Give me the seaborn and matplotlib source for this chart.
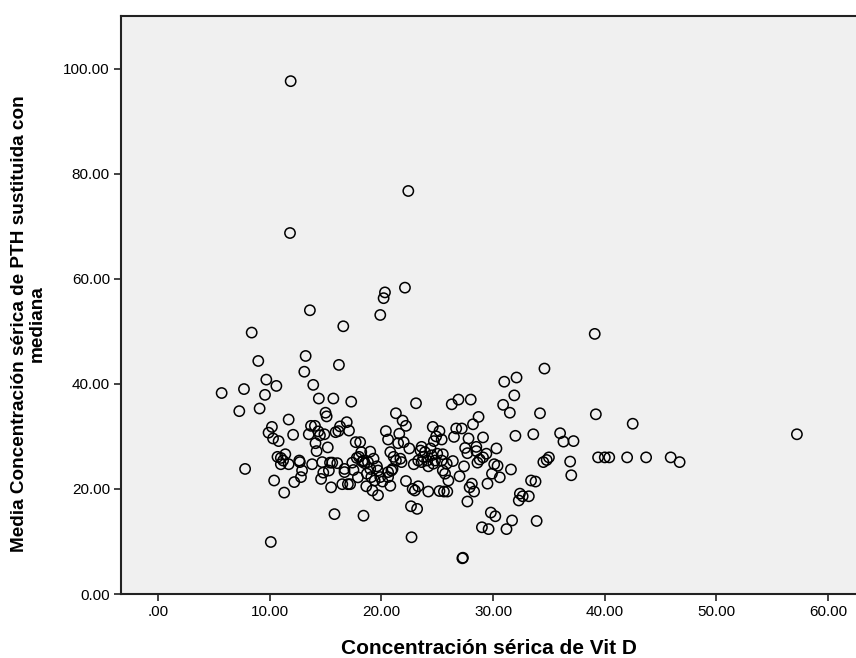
import matplotlib
matplotlib.use("Agg")
import matplotlib.pyplot as plt
import seaborn as sns
import pandas as pd
from matplotlib.ticker import FixedLocator, FuncFormatter

vit_d = [
    5.7, 7.28, 7.7, 7.8, 8.39, 8.98, 9.1, 9.58, 9.7, 9.9, 10.2, 10.3, 10.1, 10.4, 10.6, 10.7, 10.8,
    11.0, 11.0, 11.2, 11.3, 11.4, 11.7, 11.7, 11.82, 11.88,
    12.1, 12.2, 12.65, 12.7, 12.8, 12.9, 13.1, 13.22, 13.5, 13.6, 13.7, 13.8, 13.9, 14.05, 14.1,
    14.2, 14.35, 14.4, 14.5, 14.6, 14.7, 14.8, 14.9, 15.0, 15.1, 15.2, 15.3, 15.4, 15.5, 15.6,
    15.7, 15.8, 15.9, 16.05, 16.15, 16.2, 16.3,
    16.5, 16.59, 16.7, 16.7, 16.9, 17.0, 17.2, 17.1, 17.3, 17.4, 17.5, 17.7, 17.8, 17.9, 18.0,
    18.1, 18.2, 18.3, 18.4, 18.4, 18.5, 18.65, 18.7, 18.8, 19.0, 19.0, 19.1, 19.2, 19.3, 19.4,
    19.6, 19.7, 19.7, 19.9, 19.9, 20.1, 20.2, 20.32, 20.4, 20.6, 20.6, 20.6, 20.8, 20.8, 20.9,
    21.0, 21.1, 21.3, 21.3, 21.5, 21.6, 21.7, 21.8, 21.9, 22.0, 22.11, 22.2, 22.2, 22.41, 22.5,
    22.65, 22.7, 22.8, 22.9, 23.0, 23.1, 23.2, 23.3, 23.3, 23.5, 23.6, 23.6, 23.75, 23.9, 24.1,
    24.2, 24.2, 24.4, 24.5, 24.6, 24.65, 24.7, 24.8, 24.9, 25.0, 25.2, 25.2, 25.4, 25.4, 25.5,
    25.5, 25.6, 25.7, 25.85, 25.9, 26.0, 26.3, 26.4, 26.5, 26.7, 26.9, 27.0, 27.2, 27.25, 27.3,
    27.4, 27.5, 27.7, 27.7, 27.8, 27.9, 28.0, 28.1, 28.2, 28.3, 28.5, 28.5, 28.6, 28.7, 28.8,
    29.0, 29.1, 29.4, 29.1, 29.5, 29.6, 29.8, 29.9, 30.1, 30.2, 30.3, 30.4, 30.6, 30.9, 31.0,
    31.2, 31.5, 31.6, 31.7, 31.9, 32.0, 32.1, 32.3, 32.4, 32.65, 33.2, 33.4, 33.6, 33.8, 33.9,
    34.2, 34.5, 34.6, 34.8, 35.0, 36.0, 36.3, 36.9, 37.0, 37.2, 39.1, 39.2, 39.4, 40.0, 40.4,
    42.5, 42.0, 43.7, 45.9, 46.7, 57.2,
]
pth = [
    38.25, 34.8, 39.0, 23.8, 49.75, 44.35, 35.3, 37.9, 40.8, 30.7, 31.8, 29.6, 9.9, 21.6, 39.6, 26.1, 29.1,
    24.7, 25.9, 25.4, 19.3, 26.6, 24.7, 33.2, 68.7, 97.6,
    30.3, 21.3, 25.4, 25.1, 22.25, 23.5, 42.3, 45.3, 30.4, 54.0, 32.0, 24.7, 39.8, 32.0, 28.7,
    27.2, 30.95, 37.2, 30.2, 21.9, 25.1, 23.1, 30.4, 34.5, 33.8, 27.9, 23.5, 25.0, 20.3, 25.0,
    37.2, 15.2, 30.8, 24.9, 31.0, 43.6, 31.9,
    20.9, 50.95, 23.8, 23.2, 32.7, 20.9, 20.9, 31.1, 36.6, 25.0, 23.6, 28.9, 25.9, 22.2, 26.1,
    28.9, 27.0, 25.2, 14.9, 25.4, 24.9, 20.5, 22.9, 25.1, 27.1, 23.8, 22.25, 19.7, 25.75, 21.6,
    24.3, 23.5, 18.8, 22.25, 53.1, 21.4, 56.3, 57.4, 31.0, 29.4, 22.25, 23.2, 20.6, 27.0, 23.5,
    23.8, 26.1, 25.4, 34.4, 28.7, 30.5, 25.75, 25.1, 33.0, 28.9, 58.3, 32.0, 21.5, 76.7, 27.7,
    16.7, 10.8, 20.0, 24.7, 19.7, 36.3, 16.2, 20.5, 25.4, 27.3, 28.0, 25.1, 26.1, 27.0, 25.4,
    24.3, 19.5, 27.7, 26.4, 31.8, 24.8, 29.1, 25.4, 30.0, 26.7, 31.0, 19.6, 29.4, 25.4, 26.6,
    23.5, 19.5, 22.9, 24.8, 19.5, 21.6, 36.1, 25.3, 29.9, 31.5, 37.0, 22.4, 31.5, 6.8, 6.9,
    24.3, 27.8, 26.8, 17.6, 29.6, 20.3, 37.0, 21.0, 32.3, 19.5, 28.0, 27.2, 25.0, 33.7, 25.6,
    12.7, 29.8, 26.7, 26.0, 21.0, 12.35, 15.5, 22.9, 24.7, 14.8, 27.7, 24.4, 22.2, 36.0, 40.4,
    12.35, 34.5, 23.7, 14.0, 37.8, 30.1, 41.2, 17.8, 19.1, 18.6, 18.6, 21.6, 30.4, 21.4, 13.9,
    34.4, 25.1, 42.9, 25.5, 26.0, 30.6, 29.0, 25.2, 22.6, 29.1, 49.5, 34.2, 26.0, 26.0, 26.0,
    32.4, 26.0, 26.0, 26.0, 25.1, 30.4,
]

x_ticks = [0, 10, 20, 30, 40, 50, 60]
y_ticks = [0, 20, 40, 60, 80, 100]
x_label = "Concentración sérica de Vit D"
y_label = "Media Concentración sérica de PTH sustituida con\nmediana"

df = pd.DataFrame({"vit_d": vit_d, "pth": pth})

sns.set_style("white")
plt.rcParams["font.family"] = ["Liberation Sans Narrow", "Liberation Sans", "DejaVu Sans"]
plt.rcParams["text.color"] = "black"
plt.rcParams["axes.labelcolor"] = "black"

fig = plt.figure(figsize=(8.56, 6.58), dpi=100)
ax = fig.add_axes([121 / 856, 1 - 594 / 658, 1 - 121 / 856, (594 - 16) / 658])
ax.set_facecolor("#f0f0f0")

sns.scatterplot(data=df, x="vit_d", y="pth", ax=ax, marker="o", s=55,
                facecolor="none", edgecolor="black", linewidth=1.1, legend=False)

ax.set_xlim(-3.31, 62.49)
ax.set_ylim(0, 110.0)
ax.xaxis.set_major_locator(FixedLocator(x_ticks))
ax.yaxis.set_major_locator(FixedLocator(y_ticks))


def fmt(v, pos):
    s = f"{v:.2f}"
    if s.startswith("0."):
        s = s[1:]
    return s


ax.xaxis.set_major_formatter(FuncFormatter(fmt))
ax.yaxis.set_major_formatter(FuncFormatter(lambda v, p: f"{v:.2f}"))
ax.tick_params(axis="both", which="major", direction="out", length=5, width=1.2,
               color="#222222", labelsize=11, labelcolor="black", pad=3,
               bottom=True, left=True)

for side in ["left", "bottom", "top"]:
    ax.spines[side].set_visible(True)
    ax.spines[side].set_color("#222222")
    ax.spines[side].set_linewidth(1.5)
ax.spines["right"].set_visible(False)

ax.set_xlabel(x_label, fontsize=15, fontweight="bold", labelpad=14, color="black")
ax.set_ylabel(y_label, fontsize=13.7, fontweight="bold", linespacing=1.05,
              ha="center", va="center", color="black")
ax.yaxis.set_label_coords((28 - 121) / 735, (594 - 324) / 578)

fig.savefig("out.png", dpi=100)
